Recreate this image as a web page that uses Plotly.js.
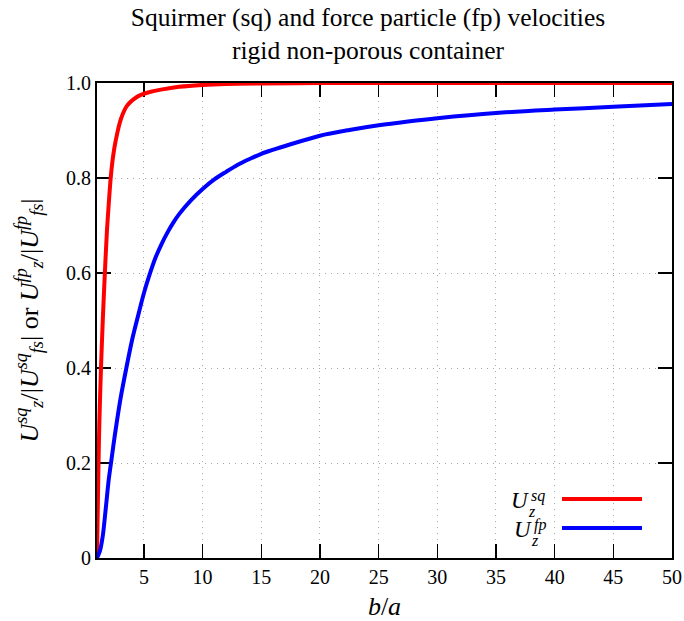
<!DOCTYPE html>
<html>
<head>
<meta charset="utf-8">
<script src="https://cdn.plot.ly/plotly-3.0.1.min.js"></script>
<style>
  html, body { margin: 0; padding: 0; background: #fff; }
  #chart { width: 684px; height: 621px; }
</style>
</head>
<body>
<div id="chart"></div>
<script>
// ---- data ----
const sqX = [1.0, 1.05, 1.13, 1.2, 1.34, 1.5, 1.67, 1.85, 2.0, 2.15, 2.3, 2.47, 2.75, 2.95, 3.17, 3.5, 3.89, 4.3, 4.74, 5.5, 6.45, 8, 10, 12, 15, 20, 30, 40, 50];
const sqY = [0.0, 0.08, 0.2, 0.285, 0.40, 0.505, 0.6, 0.69, 0.745, 0.795, 0.832, 0.862, 0.897, 0.917, 0.933, 0.950, 0.961, 0.969, 0.975, 0.981, 0.986, 0.992, 0.996, 0.998, 0.999, 1.0, 1.0, 1.0, 1.0];

const fpX = [1.0, 1.25, 1.5, 1.75, 2.0, 2.25, 2.5, 3.0, 3.5, 4.0, 4.5, 5.0, 5.5, 6, 6.5, 7, 7.5, 8, 9, 10, 11, 12, 13, 14, 15, 17.5, 20, 22.5, 25, 27.5, 30, 35, 40, 45, 50];
const fpY = [0.0, 0.015, 0.048, 0.105, 0.165, 0.21, 0.255, 0.335, 0.40, 0.46, 0.51, 0.558, 0.598, 0.633, 0.661, 0.685, 0.706, 0.724, 0.753, 0.777, 0.797, 0.813, 0.828, 0.840, 0.851, 0.871, 0.889, 0.901, 0.911, 0.919, 0.926, 0.937, 0.944, 0.950, 0.956];

const xTicks = [5, 10, 15, 20, 25, 30, 35, 40, 45, 50];
const yTicks = [0, 0.2, 0.4, 0.6, 0.8, 1.0];
const yTickText = ['0', '0.2', '0.4', '0.6', '0.8', '1.0'];

const titleLines = ['Squirmer (sq) and force particle (fp) velocities', 'rigid non-porous container'];
const seriesNames = ['U_z^sq', 'U_z^fp'];
const seriesColors = ['#ff0000', '#0000ff'];

// ---- layout helpers ----
const W = 684, H = 621;
const M = {l: 97, r: 12, t: 83, b: 63};
const PW = W - M.l - M.r, PH = H - M.t - M.b;
const px = x => (x - M.l) / PW;
const py = y => (H - M.b - y) / PH;

const FONT = '"Liberation Serif", "Times New Roman", serif';

const traces = [
  {x: sqX, y: sqY, name: seriesNames[0], type: 'scatter', mode: 'lines',
   line: {color: seriesColors[0], width: 4, shape: 'spline', smoothing: 0.8}, showlegend: false},
  {x: fpX, y: fpY, name: seriesNames[1], type: 'scatter', mode: 'lines',
   line: {color: seriesColors[1], width: 4, shape: 'spline', smoothing: 0.8}, showlegend: false}
];

const legendItems = [
  {yc: 499, sup: 'sq', color: seriesColors[0], uRight: 530},
  {yc: 528, sup: 'fp', color: seriesColors[1], uRight: 533}
];

const annotations = [];
const shapes = [];
legendItems.forEach(it => {
  annotations.push({xref: 'paper', yref: 'paper', x: px(it.uRight + 1), y: py(it.yc + 1), xanchor: 'right', yanchor: 'middle',
    text: '<i>U</i>', showarrow: false, font: {family: FONT, size: 23, color: '#000'}});
  annotations.push({xref: 'paper', yref: 'paper', x: px(it.uRight - 1), y: py(it.yc - 3), xanchor: 'left', yanchor: 'middle',
    text: '<i>' + it.sup + '</i>', showarrow: false, font: {family: FONT, size: 16, color: '#000'}});
  annotations.push({xref: 'paper', yref: 'paper', x: px(it.uRight - 4), y: py(it.yc + 12), xanchor: 'left', yanchor: 'middle',
    text: '<i>z</i>', showarrow: false, font: {family: FONT, size: 16, color: '#000'}});
  shapes.push({type: 'line', xref: 'paper', yref: 'paper', x0: px(562), x1: px(642), y0: py(it.yc), y1: py(it.yc),
    line: {color: it.color, width: 4}});
});

const GRID = {showgrid: true, gridcolor: '#a8a8a8', griddash: '1px,5px', gridwidth: 1};

const layout = {
  width: W, height: H,
  margin: M,
  paper_bgcolor: '#fff', plot_bgcolor: '#fff',
  font: {family: FONT, size: 20, color: '#000'},
  title: {text: titleLines.join('<br>'), font: {family: FONT, size: 25.5, color: '#000'},
          x: 368 / W, xanchor: 'center', xref: 'container', y: 1 - 26 / H, yanchor: 'middle', yref: 'container'},
  xaxis: Object.assign({
    range: [1, 50], tickmode: 'array', tickvals: xTicks,
    ticks: 'inside', ticklen: 14, tickwidth: 1.5, tickcolor: '#000',
    showline: true, linecolor: '#000', linewidth: 2, mirror: 'ticks',
    zeroline: false, layer: 'below traces',
    tickfont: {family: FONT, size: 20, color: '#000'},
    title: {text: '<i>b</i>/<i>a</i>', font: {family: FONT, size: 26, color: '#000'}, standoff: 12}
  }, GRID),
  yaxis: Object.assign({
    range: [0, 1], tickmode: 'array', tickvals: yTicks, ticktext: yTickText,
    ticks: 'inside', ticklen: 14, tickwidth: 1.5, tickcolor: '#000',
    showline: true, linecolor: '#000', linewidth: 2, mirror: 'ticks',
    zeroline: false, layer: 'below traces',
    tickfont: {family: FONT, size: 20, color: '#000'},
    title: {text: '<i>U<sup>sq</sup><sub>z</sub></i>/|<i>U<sup>sq</sup><sub>fs</sub></i>| or <i>U<sup>fp</sup><sub>z</sub></i>/|<i>U<sup>fp</sup><sub>fs</sub></i>|',
            font: {family: FONT, size: 26, color: '#000'}, standoff: 20}
  }, GRID),
  annotations: annotations,
  shapes: shapes,
  showlegend: false
};

Plotly.newPlot('chart', traces, layout, {displayModeBar: false, staticPlot: true});
</script>
</body>
</html>
